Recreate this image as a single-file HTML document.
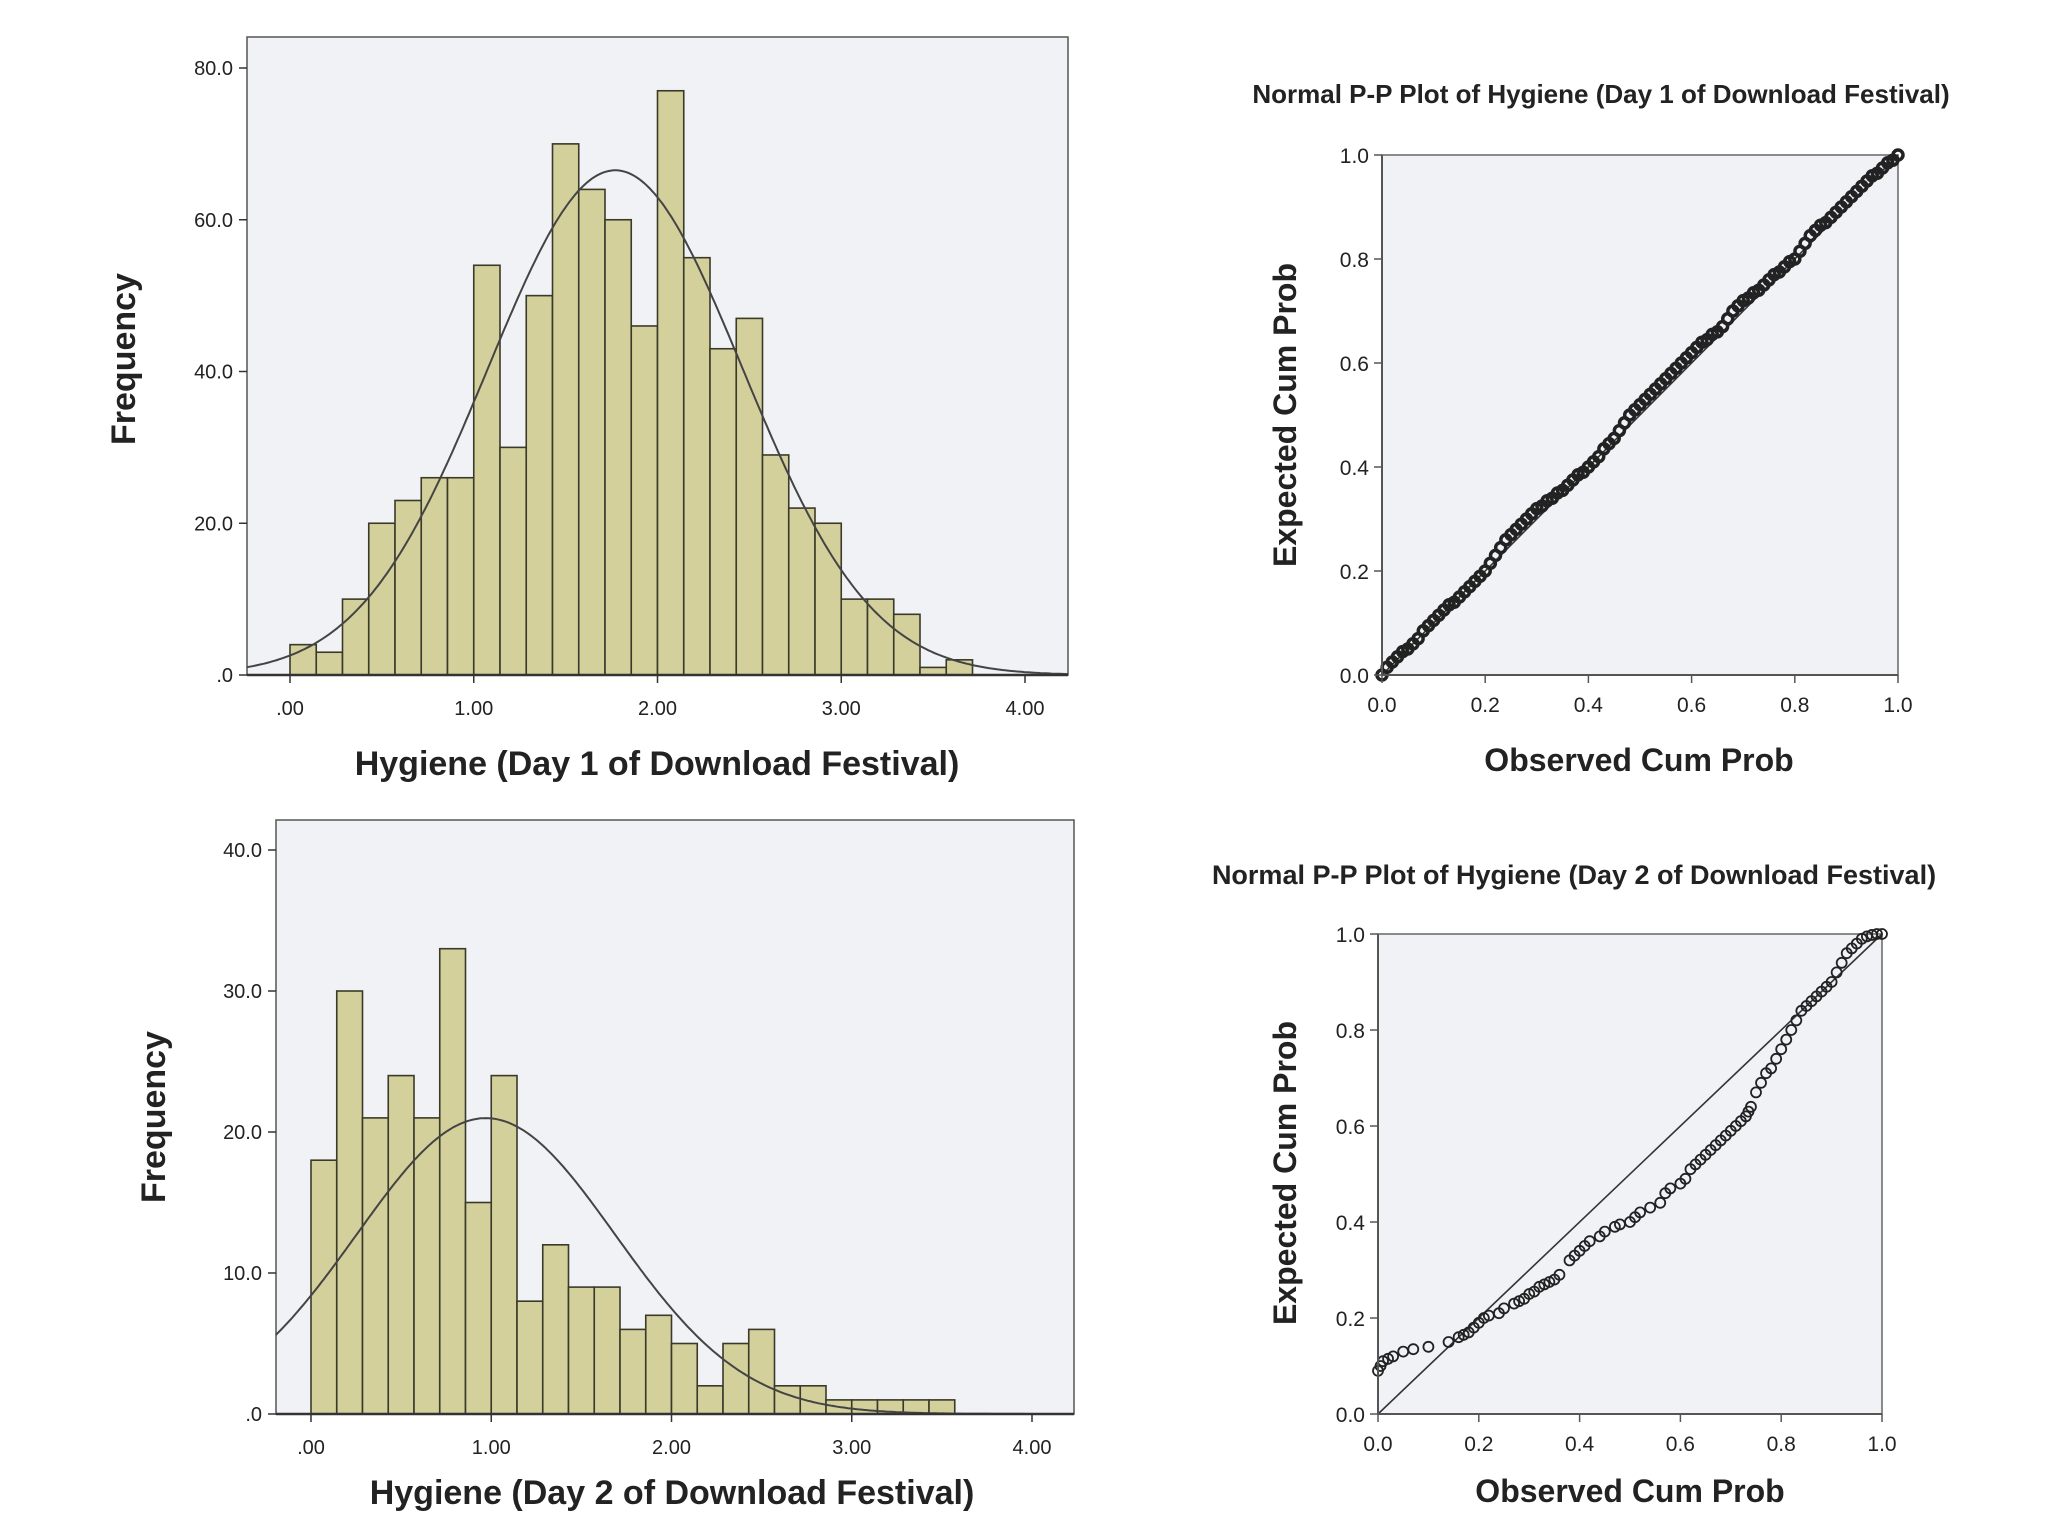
<!DOCTYPE html>
<html><head><meta charset="utf-8"><style>
html,body{margin:0;padding:0;background:#fff}
svg{display:block}
text{font-family:"Liberation Sans",sans-serif;fill:#222}
</style></head><body>
<svg id="s" width="2048" height="1536" xmlns="http://www.w3.org/2000/svg"></svg>
<script>
const day1Counts=[4,3,10,20,23,26,26,54,30,50,70,64,60,46,77,55,43,47,29,22,20,10,10,8,1,2];
const day2Counts=[18,30,21,24,21,33,15,24,8,12,9,9,6,7,5,2,5,6,2,2,1,1,1,1,1];
const binWidth=1/7;
const day1Mean=1.77, day1Sd=0.694;
const day2Mean=0.97, day2Sd=0.717;
const histXTicks=[0,1,2,3,4];
const histXTickLabels=[".00","1.00","2.00","3.00","4.00"];
const day1YTicks=[0,20,40,60,80];
const day1YTickLabels=[".0","20.0","40.0","60.0","80.0"];
const day2YTicks=[0,10,20,30,40];
const day2YTickLabels=[".0","10.0","20.0","30.0","40.0"];
const ppTicks=[0,0.2,0.4,0.6,0.8,1.0];
const ppTickLabels=["0.0","0.2","0.4","0.6","0.8","1.0"];
const pp1Obs=[0,0.01,0.02,0.03,0.04,0.05,0.06,0.07,0.08,0.09,0.1,0.11,0.12,0.13,0.14,0.15,0.16,0.17,0.18,0.19,0.2,0.21,0.22,0.23,0.24,0.25,0.26,0.27,0.28,0.29,0.3,0.31,0.32,0.33,0.34,0.35,0.36,0.37,0.38,0.39,0.4,0.41,0.42,0.43,0.44,0.45,0.46,0.47,0.48,0.49,0.5,0.51,0.52,0.53,0.54,0.55,0.56,0.57,0.58,0.59,0.6,0.61,0.62,0.63,0.64,0.65,0.66,0.67,0.68,0.69,0.7,0.71,0.72,0.73,0.74,0.75,0.76,0.77,0.78,0.79,0.8,0.81,0.82,0.83,0.84,0.85,0.86,0.87,0.88,0.89,0.9,0.91,0.92,0.93,0.94,0.95,0.96,0.97,0.98,0.99,1.0];
const pp1Exp=[0,0.015,0.025,0.035,0.045,0.05,0.06,0.07,0.085,0.095,0.105,0.115,0.125,0.135,0.14,0.15,0.16,0.17,0.18,0.19,0.2,0.215,0.23,0.245,0.26,0.27,0.28,0.29,0.3,0.31,0.32,0.325,0.335,0.34,0.35,0.355,0.365,0.375,0.385,0.39,0.4,0.41,0.42,0.435,0.445,0.455,0.47,0.485,0.5,0.51,0.52,0.53,0.54,0.55,0.56,0.57,0.58,0.59,0.6,0.61,0.62,0.63,0.64,0.645,0.655,0.66,0.67,0.685,0.7,0.71,0.72,0.725,0.735,0.74,0.75,0.76,0.77,0.775,0.785,0.795,0.8,0.815,0.83,0.845,0.855,0.865,0.87,0.88,0.89,0.9,0.91,0.92,0.93,0.94,0.95,0.96,0.965,0.975,0.985,0.99,1.0];
const pp2Obs=[0,0.005,0.01,0.02,0.03,0.05,0.07,0.1,0.14,0.16,0.17,0.18,0.19,0.2,0.21,0.22,0.24,0.25,0.27,0.28,0.29,0.3,0.31,0.32,0.33,0.34,0.35,0.36,0.38,0.39,0.4,0.41,0.42,0.44,0.45,0.47,0.48,0.5,0.51,0.52,0.54,0.56,0.57,0.58,0.6,0.61,0.62,0.63,0.64,0.65,0.66,0.67,0.68,0.69,0.7,0.71,0.72,0.73,0.735,0.74,0.75,0.76,0.77,0.78,0.79,0.8,0.81,0.82,0.83,0.84,0.85,0.86,0.87,0.88,0.89,0.9,0.91,0.92,0.93,0.94,0.95,0.96,0.97,0.98,0.99,1.0];
const pp2Exp=[0.09,0.1,0.11,0.115,0.12,0.13,0.135,0.14,0.15,0.16,0.165,0.17,0.18,0.19,0.2,0.205,0.21,0.22,0.23,0.235,0.24,0.25,0.255,0.265,0.27,0.275,0.28,0.29,0.32,0.33,0.34,0.35,0.36,0.37,0.38,0.39,0.395,0.40,0.41,0.42,0.43,0.44,0.46,0.47,0.48,0.49,0.51,0.52,0.53,0.54,0.55,0.56,0.57,0.58,0.59,0.6,0.61,0.62,0.63,0.64,0.67,0.69,0.71,0.72,0.74,0.76,0.78,0.8,0.82,0.84,0.85,0.86,0.87,0.88,0.89,0.9,0.92,0.94,0.96,0.97,0.98,0.99,0.995,0.998,1.0,1.0];

const S=document.getElementById('s');
const NS='http://www.w3.org/2000/svg';
function el(tag,attrs,parent){const e=document.createElementNS(NS,tag);for(const k in attrs)e.setAttribute(k,attrs[k]);(parent||S).appendChild(e);return e;}
function txt(x,y,s,size,anchor,weight,parent,rot){const t=el('text',{x:x,y:y,'font-size':size,'text-anchor':anchor||'middle','font-weight':weight||'normal'},parent);if(rot)t.setAttribute('transform','rotate(-90 '+x+' '+y+')');t.textContent=s;return t;}

function histogram(name,cfg,counts,mean,sd,yTicks,yLabels,xTitle){
  const g=el('g',{});
  
  
  const X=v=>cfg.x0+(v)*(cfg.x4-cfg.x0)/4;
  const Y=v=>cfg.y0-v*(cfg.y0-cfg.yTop)/cfg.yTopVal;
  const bg=el('rect',{x:cfg.L,y:cfg.T,width:cfg.R-cfg.L,height:cfg.B-cfg.T,fill:'#f1f2f6',stroke:'#555','stroke-width':1.5},g);
  
  
  counts.forEach((c,i)=>{
    const r=el('rect',{x:X(i*binWidth),y:Y(c),width:X(binWidth)-X(0),height:Y(0)-Y(c),fill:'#d3d09b',stroke:'#3a3a2a','stroke-width':1.6},g);
    
    
  });
  const N=counts.reduce((a,b)=>a+b,0);
  let d='';
  const vmin=(cfg.L-cfg.x0)/((cfg.x4-cfg.x0)/4), vmax=(cfg.R-cfg.x0)/((cfg.x4-cfg.x0)/4);
  for(let k=0;k<=300;k++){const v=vmin+(vmax-vmin)*k/300;const f=N*binWidth/(sd*Math.sqrt(2*Math.PI))*Math.exp(-0.5*((v-mean)/sd)**2);d+=(k?'L':'M')+X(v).toFixed(1)+','+Y(f).toFixed(1);}
  const p=el('path',{d:d,fill:'none',stroke:'#444','stroke-width':2},g);
  
  
  el('line',{x1:cfg.L,y1:cfg.B,x2:cfg.R,y2:cfg.B,stroke:'#333','stroke-width':2.5},g);
  histXTicks.forEach((v,i)=>{el('line',{x1:X(v),y1:cfg.B,x2:X(v),y2:cfg.B+8,stroke:'#333','stroke-width':1.5},g);
    const t=txt(X(v),cfg.B+40,histXTickLabels[i],20,'middle','normal',g);
    
    });
  yTicks.forEach((v,i)=>{el('line',{x1:cfg.L-8,y1:Y(v),x2:cfg.L,y2:Y(v),stroke:'#333','stroke-width':1.5},g);
    const t=txt(cfg.L-14,Y(v)+7,yLabels[i],20,'end','normal',g);
    
    });
  const xt=txt(cfg.xtx,cfg.xty,xTitle,34,'middle','bold',g);
  
  
  const yt=txt(cfg.ytx,cfg.yty,'Frequency',34,'middle','bold',g,true);
  
  
}
histogram('histogram-day1',{L:247,R:1068,T:37,B:675,x0:290,x4:1025,y0:675,yTop:68,yTopVal:80,xtx:657,xty:775,ytx:135,yty:359},day1Counts,day1Mean,day1Sd,day1YTicks,day1YTickLabels,'Hygiene (Day 1 of Download Festival)');
histogram('histogram-day2',{L:276,R:1074,T:820,B:1414,x0:311,x4:1032,y0:1414,yTop:850,yTopVal:40,xtx:672,xty:1504,ytx:165,yty:1117},day2Counts,day2Mean,day2Sd,day2YTicks,day2YTickLabels,'Hygiene (Day 2 of Download Festival)');

function ppplot(name,cfg,obs,exp,title){
  const g=el('g',{});
  
  
  const X=v=>cfg.L+v*(cfg.R-cfg.L), Y=v=>cfg.B-v*(cfg.B-cfg.T);
  const bg=el('rect',{x:cfg.L,y:cfg.T,width:cfg.R-cfg.L,height:cfg.B-cfg.T,fill:'#f1f2f6',stroke:'#666','stroke-width':1.5},g);
  
  
  const ref=el('line',{x1:X(0),y1:Y(0),x2:X(1),y2:Y(1),stroke:'#333','stroke-width':1.6},g);
  
  
  obs.forEach((o,i)=>{const c=el('circle',{cx:X(o),cy:Y(exp[i]),r:cfg.r,fill:'none',stroke:'#222','stroke-width':cfg.sw},g);
    
    });
  el('line',{x1:cfg.L,y1:cfg.B,x2:cfg.R,y2:cfg.B,stroke:'#555','stroke-width':2},g);
  el('line',{x1:cfg.L,y1:cfg.T,x2:cfg.L,y2:cfg.B,stroke:'#555','stroke-width':2},g);
  ppTicks.forEach((v,i)=>{
    el('line',{x1:X(v),y1:cfg.B,x2:X(v),y2:cfg.B+8,stroke:'#555','stroke-width':1.5},g);
    el('line',{x1:cfg.L-8,y1:Y(v),x2:cfg.L,y2:Y(v),stroke:'#555','stroke-width':1.5},g);
    const a=txt(X(v),cfg.B+37,ppTickLabels[i],21,'middle','normal',g);
    
    
    const b=txt(cfg.L-13,Y(v)+8,ppTickLabels[i],21,'end','normal',g);
    
    
  });
  const t=txt(cfg.tx,cfg.ty,title,cfg.tfs,'middle','bold',g);
  
  
  const xt=txt(cfg.xtx,cfg.xty,'Observed Cum Prob',32,'middle','bold',g);
  
  
  const yt=txt(cfg.ytx,cfg.yty,'Expected Cum Prob',32,'middle','bold',g,true);
  
  
}
ppplot('pp-plot-day1',{L:1382,R:1898,T:155,B:675,r:5,sw:3.5,tfs:26,tx:1601,ty:103,xtx:1639,xty:771,ytx:1296,yty:415},pp1Obs,pp1Exp,'Normal P-P Plot of Hygiene (Day 1 of Download Festival)');
ppplot('pp-plot-day2',{L:1378,R:1882,T:934,B:1414,r:5,sw:1.8,tfs:27,tx:1574,ty:884,xtx:1630,xty:1502,ytx:1296,yty:1173},pp2Obs,pp2Exp,'Normal P-P Plot of Hygiene (Day 2 of Download Festival)');
</script>
</body></html>
